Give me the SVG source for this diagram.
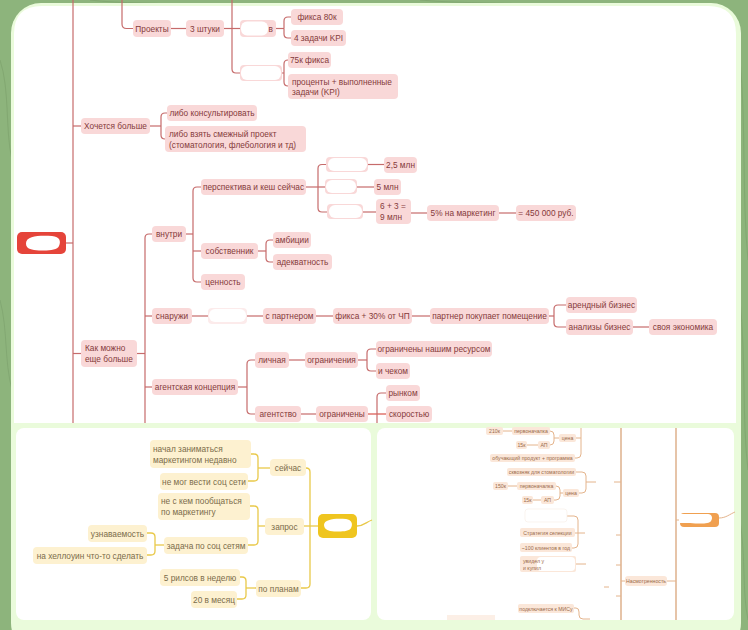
<svg xmlns="http://www.w3.org/2000/svg" width="748" height="630" viewBox="0 0 748 630">
<defs>
<style>
.n{fill:#f9d8d8}
.ny{fill:#fdf1d0}
.no{fill:#fbe7d9}
.t{font-family:"Liberation Sans",Arial,sans-serif;font-size:8.3px;fill:#853a3a}
.ty{font-family:"Liberation Sans",Arial,sans-serif;font-size:8.3px;fill:#7b6c4a}
.to{font-family:"Liberation Sans",Arial,sans-serif;font-size:5.2px;fill:#9a6a4a}
.m{text-anchor:middle}
.lr{fill:none;stroke:#c66b6b;stroke-width:1.2}
.ly{fill:none;stroke:#e9c94a;stroke-width:1.3}
.lo{fill:none;stroke:#e4b48c;stroke-width:1}
.lo2{fill:none;stroke:#d9a57a;stroke-width:1.3}
.w{fill:#ffffff}
</style>
</defs>
<!-- background -->
<rect x="0" y="0" width="748" height="630" fill="#8db47c"/>
<g fill="none" stroke="#7ea36d" stroke-width="1" opacity="0.7">
<path d="M0,60 C10,90 5,130 12,160"/>
<path d="M0,300 C8,330 4,360 12,390"/>
<path d="M740,60 C746,120 742,200 748,260"/>
<path d="M740,300 C746,360 742,420 748,470"/>
<path d="M740,520 C746,560 742,590 748,620"/>
<path d="M90,0 C120,4 160,2 200,6"/>
<path d="M420,0 C460,4 520,2 560,6"/>
</g>
<rect x="11" y="3" width="730" height="650" rx="30" fill="#eafbdb"/>
<path d="M14,423 V34 Q14,6 42,6 H708 Q736,6 736,34 V423 Z" fill="#ffffff"/>
<rect x="16" y="428" width="355" height="192" rx="8" fill="#ffffff"/>
<rect x="377" y="428" width="357" height="192" rx="8" fill="#ffffff"/>

<!-- TOP connectors -->
<g id="connectors-top" class="lr">
<path d="M73,0 V423"/>
<path d="M66,243 H73"/>
<path d="M122,0 V24 Q122,28.5 126.5,28.5 H133"/>
<path d="M171,28.5 H186"/>
<path d="M224,28.5 H240"/>
<path d="M232,0 V69 Q232,73 236,73 H240"/>
<path d="M276,28.5 H284"/>
<path d="M284,28.5 V21 Q284,17 288,17 H291"/>
<path d="M284,28.5 V34 Q284,38 288,38 H291"/>
<path d="M282,73 H284"/>
<path d="M284,73 V64 Q284,60 288,60"/>
<path d="M284,73 V82 Q284,86 288,86"/>
<path d="M73,126 H81"/>
<path d="M150,126 H161"/>
<path d="M161,126 V117 Q161,113 165,113 H167"/>
<path d="M161,126 V135 Q161,139 165,139"/>
<path d="M73,353.5 H81"/>
<path d="M137,353.5 H145"/>
<path d="M145,423 V238 Q145,234 149,234 H152"/>
<path d="M145,316 H152"/>
<path d="M145,387 H152"/>
<path d="M186,234 H193"/>
<path d="M201,187 H197 Q193,187 193,191 V278 Q193,282 197,282 H201"/>
<path d="M193,251 H201"/>
<path d="M258,251 H266"/>
<path d="M273,240 H270 Q266,240 266,244 V258 Q266,262 270,262 H273"/>
<path d="M306,187 H318"/>
<path d="M326,164.5 H322 Q318,164.5 318,168.5 V208 Q318,212 322,212 H327"/>
<path d="M318,187 H325"/>
<path d="M368,164.5 H384"/>
<path d="M357,187 H374"/>
<path d="M363,212 H376"/>
<path d="M411,213 H427"/>
<path d="M499,213 H516"/>
<path d="M192,316 H208"/>
<path d="M247,316 H263"/>
<path d="M316,316 H333"/>
<path d="M412,316 H430"/>
<path d="M549,316 H554"/>
<path d="M566,305 H558 Q554,305 554,309 V323 Q554,327 558,327 H566"/>
<path d="M633,327 H649"/>
<path d="M238,387 H247"/>
<path d="M255,360 H251 Q247,360 247,364 V410 Q247,414 251,414 H255"/>
<path d="M289,360 H305"/>
<path d="M358,360 H367"/>
<path d="M376,349 H371 Q367,349 367,353 V367 Q367,371 371,371 H376"/>
<path d="M301,414 H316"/>
<path d="M368,414 H386" stroke="#d9534a"/>
<path d="M386,393 H381 Q377,393 377,397 V423"/>
</g>

<!-- TOP nodes -->
<g id="root-red"><rect x="17" y="232" width="49" height="22" rx="5" fill="#e5443a"/><path class="w" d="M26,243 C26,236 40,235 52,236 C60,237 61,241 59,246 C57,251 44,251 34,250 C28,249 26,247 26,243 Z"/></g>
<g id="n-proekty"><rect class="n" x="133" y="20" width="38" height="17" rx="4"/><text class="t m" x="152" y="31.5">Проекты</text></g>
<g id="n-3sht"><rect class="n" x="186" y="20" width="38" height="17" rx="4"/><text class="t m" x="205" y="31.5">3 штуки</text></g>
<g id="n-red1"><rect class="n" x="240" y="20" width="36" height="17" rx="4"/><rect class="w" x="241" y="21.5" width="27" height="14" rx="6"/><text class="t" x="268.5" y="31.5">в</text></g>
<g id="n-fix80"><rect class="n" x="291" y="9" width="52" height="16" rx="4"/><text class="t m" x="317" y="20">фикса 80к</text></g>
<g id="n-4kpi"><rect class="n" x="291" y="30" width="55" height="16" rx="4"/><text class="t m" x="318.5" y="41">4 задачи KPI</text></g>
<g id="n-red2"><rect class="n" x="240" y="65" width="42" height="16" rx="4"/><rect class="w" x="241" y="66" width="40" height="14" rx="6"/></g>
<g id="n-75"><rect class="n" x="288" y="52" width="43" height="16" rx="4"/><text class="t m" x="309.5" y="63">75к фикса</text></g>
<g id="n-pct"><rect class="n" x="288" y="74" width="110" height="25" rx="4"/><text class="t" x="292" y="84.5">проценты + выполненные</text><text class="t" x="292" y="95">задачи (KPI)</text></g>
<g id="n-hoch"><rect class="n" x="81" y="118" width="69" height="16" rx="4"/><text class="t m" x="115.5" y="129">Хочется больше</text></g>
<g id="n-kons"><rect class="n" x="167" y="105" width="90" height="16" rx="4"/><text class="t m" x="212" y="116">либо консультировать</text></g>
<g id="n-vzyat"><rect class="n" x="165" y="126" width="141" height="26" rx="4"/><text class="t" x="169" y="136.5">либо взять смежный проект</text><text class="t" x="169" y="147.5">(стоматология, флебология и тд)</text></g>
<g id="n-kak"><rect class="n" x="81" y="340" width="56" height="27" rx="4"/><text class="t" x="85" y="350.5">Как можно</text><text class="t" x="85" y="361.5">еще больше</text></g>
<g id="n-vnutri"><rect class="n" x="152" y="226" width="34" height="16" rx="4"/><text class="t m" x="169" y="237">внутри</text></g>
<g id="n-snaruzhi"><rect class="n" x="152" y="308" width="40" height="16" rx="4"/><text class="t m" x="172" y="319">снаружи</text></g>
<g id="n-agent"><rect class="n" x="152" y="379" width="86" height="16" rx="4"/><text class="t m" x="195" y="390">агентская концепция</text></g>
<g id="n-persp"><rect class="n" x="201" y="179" width="105" height="16" rx="4"/><text class="t m" x="253.5" y="190">перспектива и кеш сейчас</text></g>
<g id="n-sobst"><rect class="n" x="201" y="243" width="57" height="16" rx="4"/><text class="t m" x="229.5" y="254">собственник</text></g>
<g id="n-cenn"><rect class="n" x="201" y="274" width="44" height="16" rx="4"/><text class="t m" x="223" y="285">ценность</text></g>
<g id="n-amb"><rect class="n" x="273" y="232" width="38" height="16" rx="4"/><text class="t m" x="292" y="243">амбиции</text></g>
<g id="n-adek"><rect class="n" x="273" y="254" width="59" height="16" rx="4"/><text class="t m" x="302.5" y="265">адекватность</text></g>
<g id="n-redA"><rect class="n" x="326" y="157" width="42" height="15" rx="4"/><rect class="w" x="328" y="158" width="39" height="13" rx="6"/></g>
<g id="n-redB"><rect class="n" x="325" y="179" width="32" height="15" rx="4"/><rect class="w" x="326" y="180" width="30" height="13" rx="6"/></g>
<g id="n-redC"><rect class="n" x="327" y="204" width="36" height="15" rx="4"/><rect class="w" x="329" y="205" width="33" height="13" rx="6"/></g>
<g id="n-25"><rect class="n" x="384" y="157" width="33" height="16" rx="4"/><text class="t m" x="400.5" y="168">2,5 млн</text></g>
<g id="n-5"><rect class="n" x="374" y="179" width="27" height="16" rx="4"/><text class="t m" x="387.5" y="190">5 млн</text></g>
<g id="n-63"><rect class="n" x="376" y="199" width="35" height="25" rx="4"/><text class="t" x="380" y="208.5">6 + 3 =</text><text class="t" x="380" y="219.5">9 млн</text></g>
<g id="n-5pct"><rect class="n" x="427" y="205" width="72" height="16" rx="4"/><text class="t m" x="463" y="216">5% на маркетинг</text></g>
<g id="n-450"><rect class="n" x="516" y="205" width="60" height="16" rx="4"/><text class="t m" x="546" y="216">= 450 000 руб.</text></g>
<g id="n-redS"><rect class="n" x="208" y="308" width="39" height="16" rx="4" opacity="0.5"/><rect class="w" x="209" y="309" width="37" height="13" rx="6"/></g>
<g id="n-spart"><rect class="n" x="263" y="308" width="53" height="16" rx="4"/><text class="t m" x="289.5" y="319">с партнером</text></g>
<g id="n-fix30"><rect class="n" x="333" y="308" width="79" height="16" rx="4"/><text class="t m" x="372.5" y="319">фикса + 30% от ЧП</text></g>
<g id="n-partner"><rect class="n" x="430" y="308" width="119" height="16" rx="4"/><text class="t m" x="489.5" y="319">партнер покупает помещение</text></g>
<g id="n-arend"><rect class="n" x="566" y="297" width="71" height="16" rx="4"/><text class="t m" x="601.5" y="308">арендный бизнес</text></g>
<g id="n-anal"><rect class="n" x="566" y="319" width="67" height="16" rx="4"/><text class="t m" x="599.5" y="330">анализы бизнес</text></g>
<g id="n-econ"><rect class="n" x="649" y="319" width="68" height="16" rx="4"/><text class="t m" x="683" y="330">своя экономика</text></g>
<g id="n-lich"><rect class="n" x="255" y="352" width="34" height="16" rx="4"/><text class="t m" x="272" y="363">личная</text></g>
<g id="n-agentstvo"><rect class="n" x="255" y="406" width="46" height="16" rx="4"/><text class="t m" x="278" y="417">агентство</text></g>
<g id="n-ogr1"><rect class="n" x="305" y="352" width="53" height="16" rx="4"/><text class="t m" x="331.5" y="363">ограничения</text></g>
<g id="n-resurs"><rect class="n" x="376" y="341" width="116" height="16" rx="4"/><text class="t m" x="434" y="352">ограничены нашим ресурсом</text></g>
<g id="n-chek"><rect class="n" x="376" y="363" width="34" height="16" rx="4"/><text class="t m" x="393" y="374">и чеком</text></g>
<g id="n-ogr2"><rect class="n" x="316" y="406" width="52" height="16" rx="4"/><text class="t m" x="342" y="417">ограничены</text></g>
<g id="n-rynok"><rect class="n" x="386" y="385" width="34" height="16" rx="4"/><text class="t m" x="403" y="396">рынком</text></g>
<g id="n-skor"><rect class="n" x="386" y="406" width="46" height="16" rx="4"/><text class="t m" x="409" y="417">скоростью</text></g>

<!-- BOTTOM-LEFT connectors -->
<g id="connectors-yellow" class="ly">
<path d="M318,526 H310"/>
<path d="M306,468 Q310,468 310,472 V584 Q310,588 306,588 H301"/>
<path d="M304,526 H310"/>
<path d="M251,454 H254 Q258,454 258,458 V477 Q258,481 254,481 H248"/>
<path d="M258,468 H270"/>
<path d="M250,506 H254 Q258,506 258,510 V541 Q258,545 254,545 H248"/>
<path d="M258,526 H265"/>
<path d="M147,533 H151 Q155,533 155,537 V551 Q155,555 151,555 H147"/>
<path d="M155,545 H164"/>
<path d="M240,577 H242 Q246,577 246,581 V595 Q246,599 242,599 H237"/>
<path d="M246,588 H256"/>
<path d="M357,526 C364,526 366,522 372,520"/>
</g>
<g id="root-yellow"><rect x="318" y="514" width="39" height="24" rx="5" fill="#efc51f"/><path class="w" d="M324,525 C324,519 336,518 346,519 C352,520 353,524 351,528 C349,532 338,532 330,531 C326,530 324,528 324,525 Z"/></g>
<g id="y-seichas"><rect class="ny" x="270" y="459" width="36" height="17" rx="4"/><text class="ty m" x="288" y="470.5">сейчас</text></g>
<g id="y-zapros"><rect class="ny" x="265" y="518" width="39" height="17" rx="4"/><text class="ty m" x="284.5" y="529.5">запрос</text></g>
<g id="y-planam"><rect class="ny" x="256" y="580" width="45" height="17" rx="4"/><text class="ty m" x="278.5" y="591.5">по планам</text></g>
<g id="y-nachal"><rect class="ny" x="150" y="440" width="101" height="28" rx="4"/><text class="ty" x="153" y="451.5">начал заниматься</text><text class="ty" x="153" y="462.5">маркетингом недавно</text></g>
<g id="y-nemog"><rect class="ny" x="160" y="473" width="88" height="17" rx="4"/><text class="ty m" x="204" y="484.5">не мог вести соц сети</text></g>
<g id="y-neskem"><rect class="ny" x="158" y="493" width="92" height="27" rx="4"/><text class="ty" x="161" y="504">не с кем пообщаться</text><text class="ty" x="161" y="515">по маркетингу</text></g>
<g id="y-zadacha"><rect class="ny" x="164" y="537" width="84" height="17" rx="4"/><text class="ty m" x="206" y="548.5">задача по соц сетям</text></g>
<g id="y-uznav"><rect class="ny" x="88" y="525" width="59" height="17" rx="4"/><text class="ty m" x="117.5" y="536.5">узнаваемость</text></g>
<g id="y-hellow"><rect class="ny" x="33" y="547" width="114" height="17" rx="4"/><text class="ty m" x="90" y="558.5">на хеллоуин что-то сделать</text></g>
<g id="y-5rils"><rect class="ny" x="160" y="569" width="80" height="17" rx="4"/><text class="ty m" x="200" y="580.5">5 рилсов в неделю</text></g>
<g id="y-20"><rect class="ny" x="191" y="591" width="46" height="17" rx="4"/><text class="ty m" x="214" y="602.5">20 в месяц</text></g>

<!-- BOTTOM-RIGHT connectors -->
<g id="connectors-orange" class="lo">
<path class="lo2" d="M621,428 V620"/>
<path class="lo2" d="M676,428 V620"/>
<path d="M676,520 H680"/>
<path d="M719,518 C726,518 730,514 735,512"/>
<path d="M621,581 H625"/>
<path d="M667,581 H676"/>
<path d="M503,431 H512"/>
<path d="M550,431 Q554,431 554,435 V441 Q554,445 550,445"/>
<path d="M554,438 H559"/>
<path d="M527,445 H538"/>
<path d="M581,428 V454 Q581,458 577,458 H575"/>
<path d="M576,438 H581"/>
<path d="M508,486 H517"/>
<path d="M556,486 Q560,486 560,490 V496 Q560,500 556,500 H554"/>
<path d="M560,493 H563"/>
<path d="M533,500 H541"/>
<path d="M576,472 H582 Q586,472 586,476 V489 Q586,493 582,493 H579"/>
<path d="M586,482 H596"/>
<path d="M614,482 H621"/>
<path d="M567,516 H574 Q578,516 578,520 V544 Q578,548 574,548 H572"/>
<path d="M575,533 H585"/>
<path d="M616,535 H621"/>
<path d="M576,564 H586"/>
<path d="M616,565 H621"/>
<path d="M604,587 H609"/>
<path d="M616,596 H621"/>
<path d="M574,608 H576 Q579,608 579,612 V615 Q579,619 583,619 H590"/>
</g>
<g id="root-orange"><rect x="680" y="513" width="39" height="14" rx="4" fill="#f0a050"/><path class="w" d="M679,514 H708 C712,514 713,518 711,521 C709,524 700,524 690,523 H679 Z"/></g>
<g id="o-nasm"><rect class="no" x="625" y="576" width="42" height="10" rx="3"/><text class="to m" x="646" y="583">Насмотренность</text></g>
<g id="o-210"><rect class="no" x="486" y="427" width="17" height="8" rx="2"/><text class="to m" x="494.5" y="433">210к</text></g>
<g id="o-perv1"><rect class="no" x="512" y="427" width="38" height="8" rx="2"/><text class="to m" x="531" y="433">первоначалка</text></g>
<g id="o-cena1"><rect class="no" x="559" y="434" width="17" height="8" rx="2"/><text class="to m" x="567.5" y="440">цена</text></g>
<g id="o-15a"><rect class="no" x="516" y="441" width="11" height="8" rx="2"/><text class="to m" x="521.5" y="447">15к</text></g>
<g id="o-ap1"><rect class="no" x="538" y="441" width="12" height="8" rx="2"/><text class="to m" x="544" y="447">АП</text></g>
<g id="o-obuch"><rect class="no" x="490" y="454" width="85" height="8" rx="2"/><text class="to m" x="532.5" y="460">обучающий продукт + программа</text></g>
<g id="o-skv"><rect class="no" x="507" y="468" width="69" height="8" rx="2"/><text class="to m" x="541.5" y="474">сквозняк для стоматологии</text></g>
<g id="o-150"><rect class="no" x="493" y="482" width="15" height="8" rx="2"/><text class="to m" x="500.5" y="488">150к</text></g>
<g id="o-perv2"><rect class="no" x="517" y="482" width="39" height="8" rx="2"/><text class="to m" x="536.5" y="488">первоначалка</text></g>
<g id="o-cena2"><rect class="no" x="563" y="489" width="16" height="8" rx="2"/><text class="to m" x="571" y="495">цена</text></g>
<g id="o-15b"><rect class="no" x="522" y="496" width="11" height="8" rx="2"/><text class="to m" x="527.5" y="502">15к</text></g>
<g id="o-ap2"><rect class="no" x="541" y="496" width="13" height="8" rx="2"/><text class="to m" x="547.5" y="502">АП</text></g>
<g id="o-red"><rect x="525" y="509" width="42" height="13" rx="3" fill="#ffffff" stroke="#f6ece4" stroke-width="0.6"/></g>
<g id="o-strat"><rect class="no" x="520" y="528" width="55" height="9" rx="2"/><text class="to m" x="547.5" y="534.5">Стратегия селекции</text></g>
<g id="o-100"><rect class="no" x="520" y="543" width="52" height="9" rx="2"/><text class="to m" x="546" y="549.5">~100 клиентов в год</text></g>
<g id="o-uvidel"><rect class="no" x="520" y="556" width="56" height="16" rx="2"/><rect class="w" x="537" y="557" width="38" height="14" rx="4"/><text class="to" x="523" y="562.5">увидел у</text><text class="to" x="523" y="569.5">и купил</text></g>
<g id="o-mis"><rect class="no" x="518" y="604" width="56" height="9" rx="2"/><text class="to m" x="546" y="610.5">подключается к МИСу</text></g>
<g id="o-peek"><rect x="447" y="615" width="48" height="5" fill="#fcefe6"/></g>
</svg>
